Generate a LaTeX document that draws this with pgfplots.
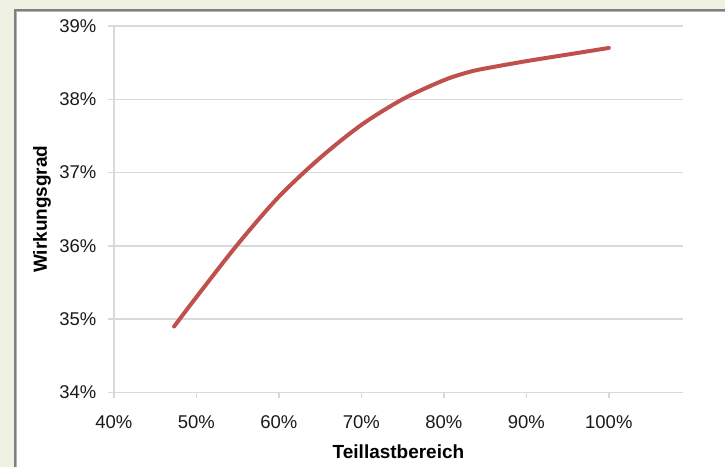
\documentclass[border=0pt]{standalone}
\usepackage{pgfplots}
\pgfplotsset{compat=1.18}
\usepackage{fontspec}
\setmainfont{Liberation Sans}
\definecolor{bgbeige}{HTML}{EFF2E3}
\definecolor{gridgray}{HTML}{D9D9D9}
\definecolor{linered}{HTML}{C0504D}
\definecolor{bordergray}{HTML}{7F7F7F}
\definecolor{textc}{HTML}{1A1A1A}
\pgfplotstableread{
x y
47.3 34.90
50 35.30
55 36.02
60 36.67
65 37.20
70 37.65
75 38.00
80 38.26
83 38.37
85 38.42
90 38.52
95 38.61
100 38.70
}\datatable
\begin{document}
\begin{tikzpicture}[x=1pt,y=1pt]
\fill[bgbeige] (0,0) rectangle (726,468);
\fill[white] (14,0) rectangle (726,459);
\draw[bordergray, line width=2pt] (15,0) -- (15,458) -- (726,458);
\draw[gray!60, line width=1pt] (16.5,0) -- (16.5,456.5) -- (726,456.5);
\begin{axis}[
  at={(114pt,75pt)}, anchor=south west,
  scale only axis, width=570pt, height=367pt,
  xmin=40, xmax=109, ymin=34, ymax=39,
  xtick={40,50,...,100}, ytick={34,35,...,39},
  axis lines*=left,
  axis line style={draw=gridgray, line width=1.5pt},
  ymajorgrids, grid style={draw=gridgray, line width=1.5pt},
  tick align=outside, major tick length=6pt,
  tick style={draw=gridgray, line width=1.5pt},
  /pgf/number format/assume math mode=true,
  xticklabel={\pgfmathprintnumber{\tick}\%},
  yticklabel={\pgfmathprintnumber{\tick}\%},
  ticklabel style={font=\fontsize{18.5}{21}\selectfont, text=textc},
  yticklabel style={xshift=-8pt},
  xticklabel style={yshift=-14pt},
  xlabel={Teillastbereich}, ylabel={Wirkungsgrad},
  label style={font=\fontsize{19}{22}\selectfont\bfseries, text=black},
  xlabel style={at={(axis description cs:0.5,0)}, anchor=base, yshift=-66pt},
  ylabel style={at={(axis description cs:-0.1175,0.5)}, anchor=base},
  clip=false,
]
\addplot[linered, line width=4pt, smooth, line cap=round] table[x=x,y=y] {\datatable};
\end{axis}
\end{tikzpicture}
\end{document}
